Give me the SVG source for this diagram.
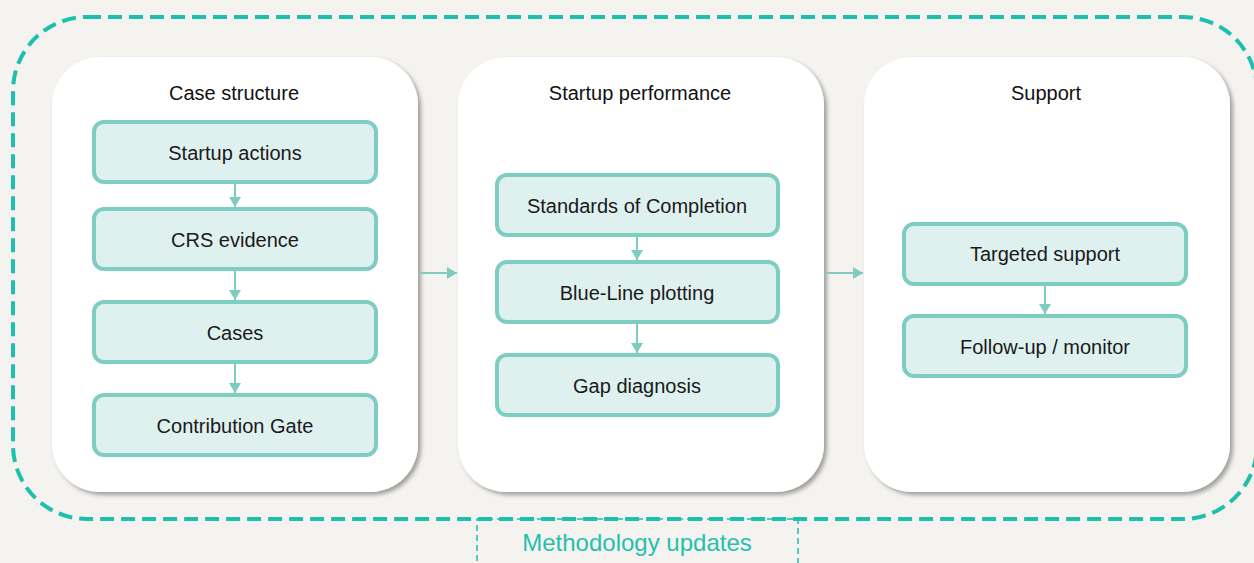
<svg xmlns="http://www.w3.org/2000/svg" width="1254" height="563" viewBox="0 0 1254 563">
<defs>
<filter id="sh" x="-10%" y="-10%" width="125%" height="125%">
<feDropShadow dx="3" dy="3" stdDeviation="2" flood-color="#000" flood-opacity="0.35"/>
</filter>
<marker id="ah" viewBox="0 0 10 12" refX="10" refY="6" markerWidth="10" markerHeight="12" markerUnits="userSpaceOnUse" orient="auto">
<path d="M0,0 L10,6 L0,12 z" fill="#7ecbc0"/>
</marker>
</defs>
<style>
.panel{fill:#ffffff;filter:url(#sh)}
.box{fill:#dff1ee;stroke:#7ecdc2;stroke-width:4}
.title{font-family:"Liberation Sans",Arial,sans-serif;font-size:20px;fill:#111;text-anchor:middle}
.lbl{font-family:"Liberation Sans",Arial,sans-serif;font-size:20px;fill:#1a1a1a;text-anchor:middle}
.conn{stroke:#7ecbc0;stroke-width:2;fill:none;marker-end:url(#ah)}
</style>
<rect x="0" y="0" width="1254" height="563" fill="#f4f3ef"/>
<g id="methodology">
<rect x="477" y="519" width="321" height="60" fill="none" stroke="#1dbfae" stroke-width="1.5" stroke-dasharray="6 4"/>
<text x="637" y="551" font-family="'Liberation Sans',Arial,sans-serif" font-size="24" fill="#26bfae" text-anchor="middle">Methodology updates</text>
</g>
<g id="outer-loop">
<rect x="13" y="17" width="1244" height="502" rx="74" fill="none" stroke="#1dbfae" stroke-width="4" stroke-dasharray="14 7"/>
</g>
<g id="panel-case">
<rect class="panel" x="52" y="57" width="366" height="435" rx="48"/>
<text class="title" x="234" y="100">Case structure</text>
</g>
<g id="panel-performance">
<rect class="panel" x="458" y="57" width="366" height="435" rx="48"/>
<text class="title" x="640" y="100">Startup performance</text>
</g>
<g id="panel-support">
<rect class="panel" x="864" y="57" width="366" height="435" rx="48"/>
<text class="title" x="1046" y="100">Support</text>
</g>
<g id="startup-actions"><rect class="box" x="94" y="122" width="282" height="60" rx="10"/><text class="lbl" x="235" y="159.5">Startup actions</text></g>
<g id="crs-evidence"><rect class="box" x="94" y="209" width="282" height="60" rx="10"/><text class="lbl" x="235" y="246.5">CRS evidence</text></g>
<g id="cases"><rect class="box" x="94" y="302" width="282" height="60" rx="10"/><text class="lbl" x="235" y="339.5">Cases</text></g>
<g id="contribution-gate"><rect class="box" x="94" y="395" width="282" height="60" rx="10"/><text class="lbl" x="235" y="432.5">Contribution Gate</text></g>
<g id="standards"><rect class="box" x="497" y="175" width="281" height="60" rx="10"/><text class="lbl" x="637" y="212.5">Standards of Completion</text></g>
<g id="blue-line"><rect class="box" x="497" y="262" width="281" height="60" rx="10"/><text class="lbl" x="637" y="299.5">Blue-Line plotting</text></g>
<g id="gap-diagnosis"><rect class="box" x="497" y="355" width="281" height="60" rx="10"/><text class="lbl" x="637" y="392.5">Gap diagnosis</text></g>
<g id="targeted-support"><rect class="box" x="904" y="224" width="282" height="60" rx="10"/><text class="lbl" x="1045" y="261">Targeted support</text></g>
<g id="follow-up"><rect class="box" x="904" y="316" width="282" height="60" rx="10"/><text class="lbl" x="1045" y="353.5">Follow-up / monitor</text></g>
<g id="connectors">
<line class="conn" x1="235" y1="184" x2="235" y2="207"/>
<line class="conn" x1="235" y1="271" x2="235" y2="300"/>
<line class="conn" x1="235" y1="364" x2="235" y2="393"/>
<line class="conn" x1="637" y1="237" x2="637" y2="260"/>
<line class="conn" x1="637" y1="324" x2="637" y2="353"/>
<line class="conn" x1="1045" y1="286" x2="1045" y2="314"/>
<line class="conn" x1="420" y1="273" x2="457" y2="273"/>
<line class="conn" x1="826" y1="273" x2="863" y2="273"/>
</g>
</svg>
